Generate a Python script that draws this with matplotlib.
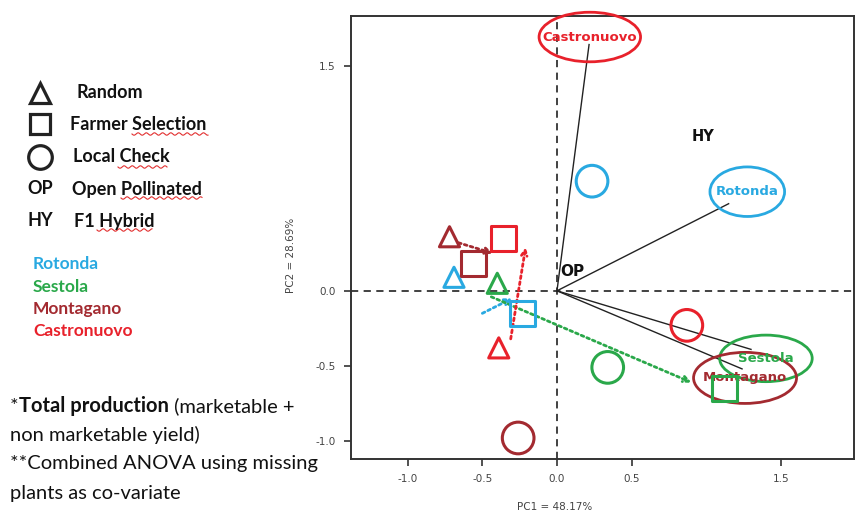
import numpy as np
import matplotlib.pyplot as plt
from matplotlib.patches import Ellipse

# cultivar groups and their colours
groups = ['Rotonda', 'Sestola', 'Montagano', 'Castronuovo']
group_colors = ['#29a9e1', '#2aa84a', '#a32a30', '#e8212b']

# PCA scores for the three population types (one value per group)
random_pc1 = [-0.69, -0.40, -0.72, -0.39]
random_pc2 = [0.09, 0.05, 0.36, -0.38]
farmer_pc1 = [-0.23, 1.12, -0.56, -0.36]
farmer_pc2 = [-0.15, -0.65, 0.18, 0.35]
check_pc1 = [0.235, 0.34, -0.26, 0.87]
check_pc2 = [0.73, -0.51, -0.98, -0.23]

# loading vectors (end points) for each group
load_pc1 = [1.15, 1.30, 1.24, 0.215]
load_pc2 = [0.58, -0.39, -0.52, 1.64]

# label ellipses: centre, width, height
ell_pc1 = [1.275, 1.40, 1.26, 0.22]
ell_pc2 = [0.66, -0.45, -0.58, 1.69]
ell_w = [0.50, 0.62, 0.69, 0.68]
ell_h = [0.33, 0.31, 0.34, 0.33]

# dotted shift arrows: start -> end
arrow_x0 = [-0.50, -0.44, -0.66, -0.31]
arrow_y0 = [-0.15, -0.04, 0.32, -0.32]
arrow_x1 = [-0.30, 0.90, -0.43, -0.21]
arrow_y1 = [-0.05, -0.61, 0.25, 0.29]

xticks = [-1.0, -0.5, 0.0, 0.5, 1.5]
yticks = [-1.0, -0.5, 0.0, 1.5]

legend_items = [('^', 'Random'), ('s', 'Farmer Selection'), ('o', 'Local Check'),
                ('OP', 'Open Pollinated'), ('HY', 'F1 Hybrid')]
# footnote lines as (plain prefix, bold part, plain rest)
notes = [('*', 'Total production', ' (marketable +'), ('', '', 'non marketable yield)'),
         ('', '', '**Combined ANOVA using missing'), ('', '', 'plants as co-variate')]

fig = plt.figure(figsize=(8.55, 5.16), dpi=100)

# overlay in pixel units for the side text
ov = fig.add_axes([0, 0, 1, 1])
ov.set_xlim(0, 855)
ov.set_ylim(516, 0)
ov.axis('off')

leg_y = [93, 124, 157, 189, 221]
leg_tx = [76, 70, 73, 72, 74]
for (sym, lab), y, tx in zip(legend_items, leg_y, leg_tx):
    if len(sym) == 1:
        ov.plot(40, y, marker=sym, ms={'^': 14, 's': 15, 'o': 17}[sym], mfc='none',
                mec='#222222', mew=2.3)
    else:
        ov.text(27, y, sym, fontsize=13, fontweight='bold', family='Lato', va='center', color='#111111')
    ov.text(tx, y, lab, fontsize=13, fontweight='bold', family='Lato', va='center', color='#111111')

# spell-check squiggles under some legend words
for x0, x1, y in [(132, 208, 134), (118, 167, 167), (121, 202, 198), (97, 152, 230)]:
    xs = np.linspace(x0, x1, 200)
    ov.plot(xs, y + 1.2 * np.sin((xs - x0) / 1.3), color='#e23030', lw=0.8)

grp_y = [264, 287, 309, 331]
for g, c, y in zip(groups, group_colors, grp_y):
    ov.text(33, y, g, fontsize=12.5, fontweight='bold', family='Lato', va='center', color=c)

renderer = fig.canvas.get_renderer()
for i, parts in enumerate(notes):
    x = 10
    y = 406 + i * 29
    for part, weight in zip(parts, ['normal', 'bold', 'normal']):
        if not part:
            continue
        t = ov.text(x, y, part, fontsize=14.5, fontweight=weight, family='Lato',
                    va='center', color='#111111')
        bb = t.get_window_extent(renderer)
        x += bb.width

# main biplot
ax = fig.add_axes([351 / 855, 57 / 516, 503 / 855, 443 / 516])
ax.set_xlim(-1.38, 1.99)
ax.set_ylim(-1.12, 1.83)

ax.axhline(0, color='#333333', lw=1.3, ls=(0, (4, 3)), zorder=1)
ax.axvline(0, color='#333333', lw=1.3, ls=(0, (4, 3)), zorder=1)

for x, y in zip(load_pc1, load_pc2):
    ax.plot([0, x], [0, y], color='#222222', lw=1.0, zorder=2)

for g, c, x, y, w, h in zip(groups, group_colors, ell_pc1, ell_pc2, ell_w, ell_h):
    ax.add_patch(Ellipse((x, y), w, h, fill=False, ec=c, lw=2, zorder=3, clip_on=False))
    ax.text(x, y, g, color=c, fontsize=9.5, fontweight='bold', ha='center', va='center',
            zorder=4, clip_on=False)

for i, c in enumerate(group_colors):
    ax.annotate('', xy=(arrow_x1[i], arrow_y1[i]), xytext=(arrow_x0[i], arrow_y0[i]),
                arrowprops=dict(arrowstyle='->', color=c, lw=2, ls=(0, (1, 1.2)),
                                shrinkA=0, shrinkB=0), zorder=3)

ax.scatter(random_pc1, random_pc2, marker='^', s=210, facecolors='none',
           edgecolors=group_colors, linewidths=2.2, zorder=5)
ax.scatter(farmer_pc1, farmer_pc2, marker='s', s=330, facecolors='none',
           edgecolors=group_colors, linewidths=2.2, zorder=5)
ax.scatter(check_pc1, check_pc2, marker='o', s=520, facecolors='none',
           edgecolors=group_colors, linewidths=2.2, zorder=5)

ax.text(0.98, 1.03, 'HY', fontsize=10.5, fontweight='bold', ha='center', va='center', color='#111111')
ax.text(0.1, 0.13, 'OP', fontsize=11, fontweight='bold', ha='center', va='center', color='#111111')

ax.set_xticks(xticks)
ax.set_yticks(yticks)
ax.set_xticklabels([f'{t:.1f}' for t in xticks])
ax.set_yticklabels([f'{t:.1f}' for t in yticks])
ax.tick_params(labelsize=7.5, labelcolor='#444444', color='#333333', length=5, width=1.2, pad=6)
for s in ax.spines.values():
    s.set_color('#333333')
    s.set_linewidth(1.4)

ax.set_xlabel('PC1 = 48.17%', fontsize=7.5, color='#444444')
ax.set_ylabel('PC2 = 28.69%', fontsize=7.5, color='#444444')
ax.xaxis.set_label_coords(0.405, -0.097)
ax.yaxis.set_label_coords(-0.109, 0.46)

fig.savefig('out.png', dpi=100)
